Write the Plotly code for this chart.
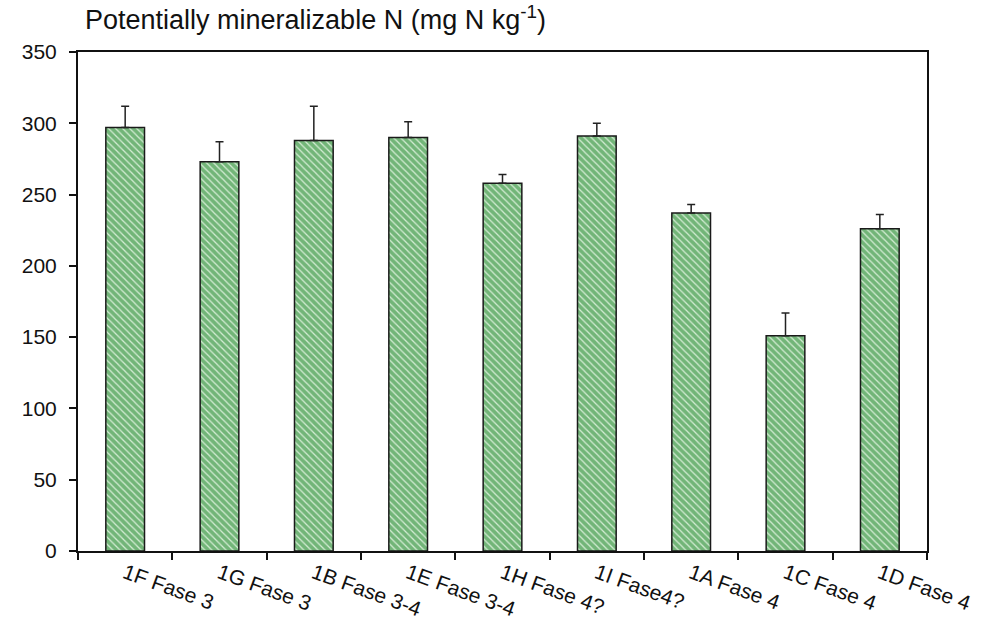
import plotly.graph_objects as go

# Sites / phases and potentially mineralizable N (mg N per kg soil)
categories = ["1F Fase 3", "1G Fase 3", "1B Fase 3-4", "1E Fase 3-4", "1H Fase 4?",
              "1I Fase4?", "1A Fase 4", "1C Fase 4", "1D Fase 4"]
pmn_mean = [297, 273, 288, 290, 258, 291, 237, 151, 226]
pmn_se = [15, 14, 24, 11, 6, 9, 6, 16, 10]
y_ticks = [0, 50, 100, 150, 200, 250, 300, 350]

fig = go.Figure()
fig.add_trace(go.Bar(
    x=categories,
    y=pmn_mean,
    width=0.41,
    marker=dict(
        color="white",
        line=dict(color="#1a1a1a", width=1.5),
        pattern=dict(shape="\\", fgcolor="#0f7d1b", bgcolor="#d4ecd4",
                     size=5, solidity=0.75),
    ),
    error_y=dict(type="data", array=pmn_se, arrayminus=[0] * len(pmn_se),
                 symmetric=False, color="#222222", thickness=1.5, width=4),
    showlegend=False,
))

axis_font = dict(family="Liberation Sans, Arial, sans-serif", size=21, color="#111111")

fig.update_layout(
    width=988, height=619,
    margin=dict(l=78, r=61, t=52, b=68),
    paper_bgcolor="white", plot_bgcolor="white",
    bargap=0.59,
    xaxis=dict(
        type="category",
        tickson="boundaries",
        ticks="outside", ticklen=7, tickwidth=2, tickcolor="#111111",
        showline=True, linecolor="#111111", linewidth=2, mirror=True,
        tickangle=20, tickfont=axis_font, ticklabelstandoff=0,
        showgrid=False, zeroline=False, automargin=False,
    ),
    yaxis=dict(
        range=[0, 350], tickvals=y_ticks,
        ticks="outside", ticklen=7, tickwidth=2, tickcolor="#111111",
        showline=True, linecolor="#111111", linewidth=2, mirror=True,
        tickfont=axis_font, ticklabelstandoff=8,
        showgrid=False, zeroline=False, automargin=False,
    ),
    annotations=[dict(
        text="Potentially mineralizable N (mg N kg<sup>-1</sup>)",
        xref="paper", yref="paper", x=0.006, y=1.068,
        xanchor="left", yanchor="middle", showarrow=False,
        font=dict(family="Liberation Sans, Arial, sans-serif", size=27, color="#111111"),
    )],
)

fig.write_html("out.html")
